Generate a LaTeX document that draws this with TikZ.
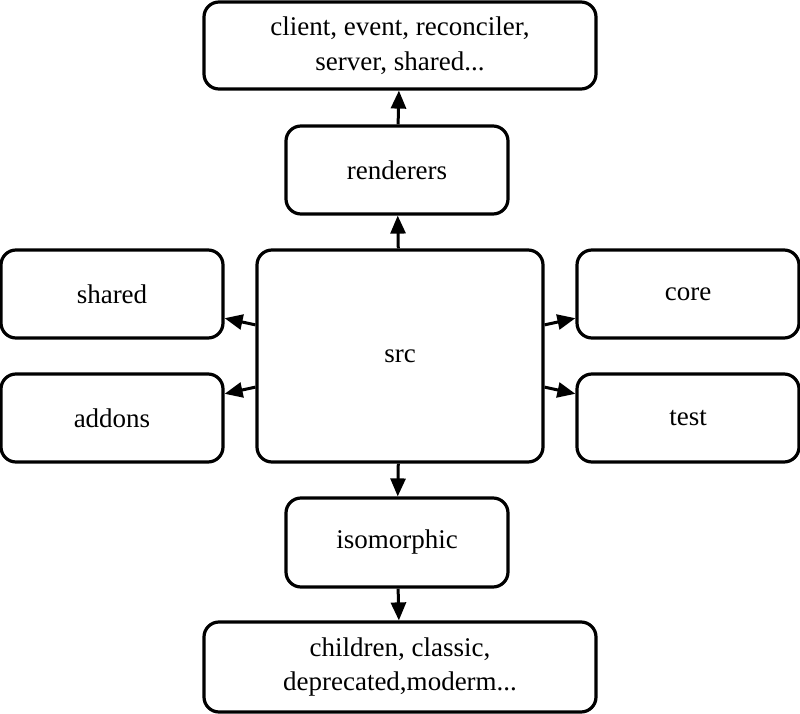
\documentclass[tikz,border=0pt]{standalone}
\usepackage{fontspec}
\setmainfont{Liberation Serif}
\usetikzlibrary{arrows.meta}
\begin{document}
\begin{tikzpicture}[x=1pt,y=-1pt,
  box/.style={draw, line width=3.2pt, rounded corners=15pt, inner sep=0pt, align=center,
    font=\fontsize{27}{34.5}\selectfont, fill=white},
  conn/.style={line width=3pt, -{Triangle[length=18pt,width=15pt]}}]
\useasboundingbox[fill=white] (0,0) rectangle (800,714);
\node[box, minimum width=392pt, minimum height=87pt] (top) at (400,45.5) {client, event, reconciler,\\server, shared...};
\node[box, minimum width=222pt, minimum height=88pt] (renderers) at (397,170) {renderers};
\node[box, minimum width=286pt, minimum height=212pt] (src) at (400,356) {src};
\node[box, minimum width=222pt, minimum height=88pt] (shared) at (112,294) {shared};
\node[box, minimum width=222pt, minimum height=88pt] (addons) at (112,418) {addons};
\node[box, minimum width=222pt, minimum height=88pt] (core) at (688,294) {core};
\node[box, minimum width=222pt, minimum height=88pt] (test) at (688,418) {test};
\node[box, minimum width=222pt, minimum height=89pt] (iso) at (397,542.5) {isomorphic};
\node[box, minimum width=392pt, minimum height=90pt] (bottom) at (400,667) {children, classic,\\deprecated,moderm...};
\draw[conn] (src) -- (renderers);
\draw[conn] (renderers) -- (top);
\draw[conn] (src) -- (shared);
\draw[conn] (src) -- (addons);
\draw[conn] (src) -- (core);
\draw[conn] (src) -- (test);
\draw[conn] (src) -- (iso);
\draw[conn] (iso) -- (bottom);
\end{tikzpicture}
\end{document}
